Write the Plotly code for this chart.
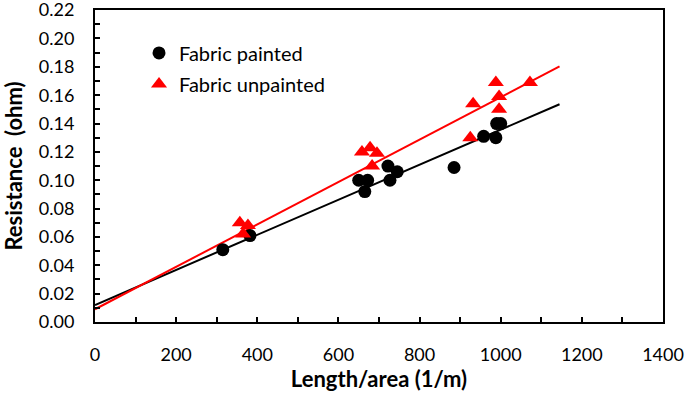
import numpy as np
import plotly.graph_objects as go

# Data
painted_x = [315, 382, 650, 665, 672, 722, 727, 745, 885, 958, 988, 990, 1000]
painted_y = [0.051, 0.061, 0.100, 0.092, 0.100, 0.110, 0.100, 0.106, 0.109, 0.131, 0.130, 0.140, 0.140]

unpainted_x = [357, 365, 377, 658, 678, 683, 695, 925, 932, 988, 996, 996, 1072]
unpainted_y = [0.070, 0.062, 0.068, 0.120, 0.123, 0.110, 0.119, 0.130, 0.154, 0.169, 0.159, 0.150, 0.169]

# Trendline parameters (intercept, slope) and extent
painted_fit = [0.012, 0.0001237]
unpainted_fit = [0.009, 0.0001496]
trend_x = [0, 1145]

x_ticks = [0, 200, 400, 600, 800, 1000, 1200, 1400]
y_ticks = [0.00, 0.02, 0.04, 0.06, 0.08, 0.10, 0.12, 0.14, 0.16, 0.18, 0.20, 0.22]

FONT = "Lato, 'Liberation Sans', Arial, sans-serif"

fig = go.Figure()

tx = np.array(trend_x, dtype=float)
fig.add_trace(go.Scatter(x=tx, y=painted_fit[0] + painted_fit[1] * tx, mode="lines",
                         line=dict(color="black", width=2), showlegend=False, hoverinfo="skip"))
fig.add_trace(go.Scatter(x=tx, y=unpainted_fit[0] + unpainted_fit[1] * tx, mode="lines",
                         line=dict(color="#ff0000", width=2), showlegend=False, hoverinfo="skip"))

fig.add_trace(go.Scatter(x=painted_x, y=painted_y, mode="markers", name="Fabric painted",
                         legendgroup="a",
                         marker=dict(symbol="circle", size=13, color="black")))
fig.add_trace(go.Scatter(x=unpainted_x, y=unpainted_y, mode="markers", name="Fabric unpainted",
                         legendgroup="b",
                         marker=dict(symbol="triangle-up", size=14, color="#ff0000")))

fig.update_layout(
    width=685, height=393,
    margin=dict(l=95, r=22, t=10, b=71, autoexpand=False),
    paper_bgcolor="white", plot_bgcolor="white",
    font=dict(family=FONT, size=18, color="black"),
    legend=dict(x=0.0775, y=0.925, xanchor="left", yanchor="top",
                font=dict(size=20), tracegroupgap=2, bgcolor="rgba(0,0,0,0)"),
)

fig.update_xaxes(
    range=[0, 1400], tickvals=x_ticks, ticktext=[str(v) for v in x_ticks],
    showgrid=False, zeroline=False, automargin=False, ticklabeloverflow="allow",
    showline=True, linecolor="black", linewidth=2, mirror=True,
    ticks="inside", ticklen=5, tickwidth=1.5, tickcolor="black",
    minor=dict(dtick=100, ticks="inside", ticklen=5, tickwidth=1.5, tickcolor="black", showgrid=False),
    ticklabelstandoff=15,
    title=dict(text="<b>Length/area (1/m)</b>", font=dict(size=22), standoff=6),
)
fig.update_yaxes(
    range=[0, 0.2201], tickvals=y_ticks, ticktext=[f"{v:.2f}" for v in y_ticks],
    showgrid=False, zeroline=False, automargin=False, ticklabeloverflow="allow",
    showline=True, linecolor="black", linewidth=2, mirror=True,
    ticks="inside", ticklen=5, tickwidth=1.5, tickcolor="black",
    minor=dict(dtick=0.01, ticks="inside", ticklen=5, tickwidth=1.5, tickcolor="black", showgrid=False),
    ticklabelstandoff=15,
    title=dict(text="<b>Resistance\u00a0\u00a0(ohm)</b>", font=dict(size=22), standoff=12),
)

fig.write_html("out.html", config={"displayModeBar": False},
               post_script="document.body.style.margin='0';")
